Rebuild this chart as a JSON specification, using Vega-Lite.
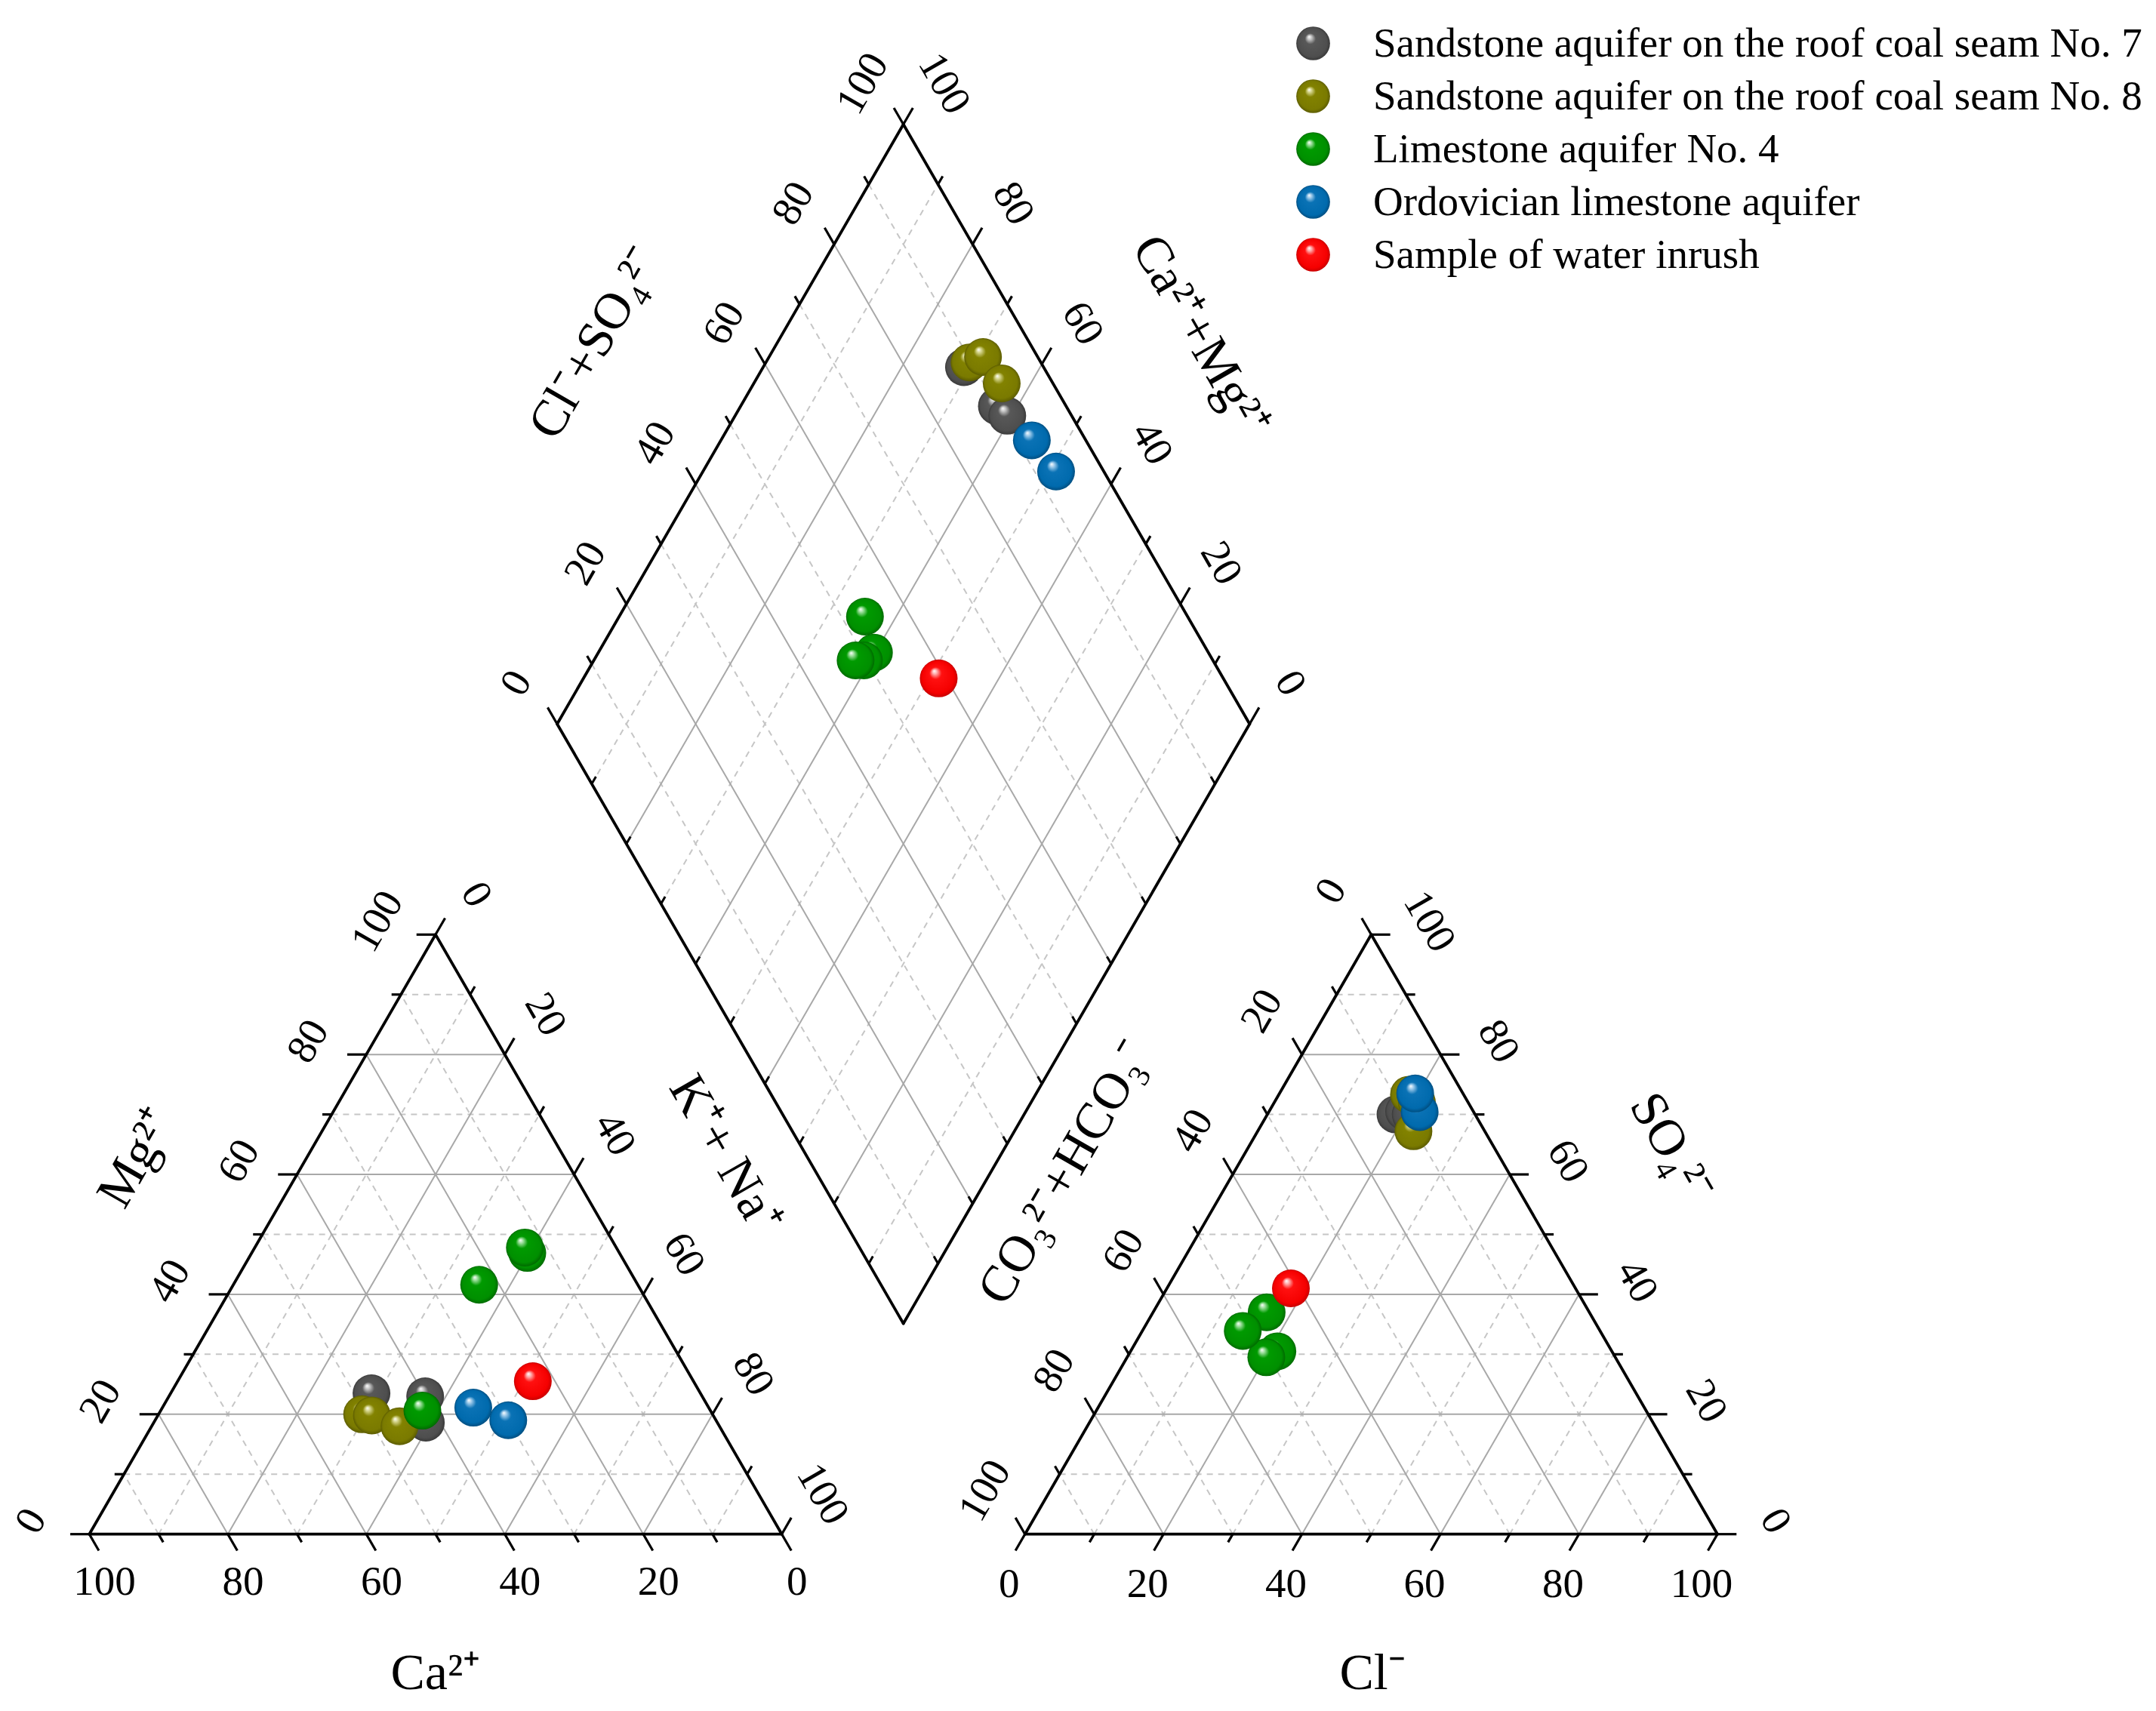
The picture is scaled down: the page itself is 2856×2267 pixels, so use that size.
{
"$schema": "https://vega.github.io/schema/vega-lite/v6.json",
"width": 2856, "height": 2267, "padding": 0, "autosize": {"type": "none"}, "background": "white",
"config": {"view": {"stroke": null}},
"datasets": {
"lines": [
{"p":"cat","f":"h","u":0},{"p":"cat","f":"h","u":10},{"p":"cat","f":"h","u":20},{"p":"cat","f":"h","u":30},{"p":"cat","f":"h","u":40},{"p":"cat","f":"h","u":50},{"p":"cat","f":"h","u":60},{"p":"cat","f":"h","u":70},{"p":"cat","f":"h","u":80},{"p":"cat","f":"h","u":90},{"p":"cat","f":"h","u":100},
{"p":"cat","f":"p","u":0},{"p":"cat","f":"p","u":10},{"p":"cat","f":"p","u":20},{"p":"cat","f":"p","u":30},{"p":"cat","f":"p","u":40},{"p":"cat","f":"p","u":50},{"p":"cat","f":"p","u":60},{"p":"cat","f":"p","u":70},{"p":"cat","f":"p","u":80},{"p":"cat","f":"p","u":90},{"p":"cat","f":"p","u":100},
{"p":"cat","f":"q","u":0},{"p":"cat","f":"q","u":10},{"p":"cat","f":"q","u":20},{"p":"cat","f":"q","u":30},{"p":"cat","f":"q","u":40},{"p":"cat","f":"q","u":50},{"p":"cat","f":"q","u":60},{"p":"cat","f":"q","u":70},{"p":"cat","f":"q","u":80},{"p":"cat","f":"q","u":90},{"p":"cat","f":"q","u":100},
{"p":"an","f":"h","u":0},{"p":"an","f":"h","u":10},{"p":"an","f":"h","u":20},{"p":"an","f":"h","u":30},{"p":"an","f":"h","u":40},{"p":"an","f":"h","u":50},{"p":"an","f":"h","u":60},{"p":"an","f":"h","u":70},{"p":"an","f":"h","u":80},{"p":"an","f":"h","u":90},{"p":"an","f":"h","u":100},
{"p":"an","f":"p","u":0},{"p":"an","f":"p","u":10},{"p":"an","f":"p","u":20},{"p":"an","f":"p","u":30},{"p":"an","f":"p","u":40},{"p":"an","f":"p","u":50},{"p":"an","f":"p","u":60},{"p":"an","f":"p","u":70},{"p":"an","f":"p","u":80},{"p":"an","f":"p","u":90},{"p":"an","f":"p","u":100},
{"p":"an","f":"q","u":0},{"p":"an","f":"q","u":10},{"p":"an","f":"q","u":20},{"p":"an","f":"q","u":30},{"p":"an","f":"q","u":40},{"p":"an","f":"q","u":50},{"p":"an","f":"q","u":60},{"p":"an","f":"q","u":70},{"p":"an","f":"q","u":80},{"p":"an","f":"q","u":90},{"p":"an","f":"q","u":100},
{"p":"dia","f":"c","u":0},{"p":"dia","f":"c","u":10},{"p":"dia","f":"c","u":20},{"p":"dia","f":"c","u":30},{"p":"dia","f":"c","u":40},{"p":"dia","f":"c","u":50},{"p":"dia","f":"c","u":60},{"p":"dia","f":"c","u":70},{"p":"dia","f":"c","u":80},{"p":"dia","f":"c","u":90},{"p":"dia","f":"c","u":100},
{"p":"dia","f":"n","u":0},{"p":"dia","f":"n","u":10},{"p":"dia","f":"n","u":20},{"p":"dia","f":"n","u":30},{"p":"dia","f":"n","u":40},{"p":"dia","f":"n","u":50},{"p":"dia","f":"n","u":60},{"p":"dia","f":"n","u":70},{"p":"dia","f":"n","u":80},{"p":"dia","f":"n","u":90},{"p":"dia","f":"n","u":100}
],
"samples": [
{"id":"G1","group":"Sandstone aquifer on the roof coal seam No. 7","ca":47.5,"mg":23.5,"na":29.0,"hco3":11.5,"so4":70.0,"cl":18.5},
{"id":"G2","group":"Sandstone aquifer on the roof coal seam No. 7","ca":40.0,"mg":23.0,"na":37.0,"hco3":10.0,"so4":70.5,"cl":19.5},
{"id":"G3","group":"Sandstone aquifer on the roof coal seam No. 7","ca":42.1,"mg":18.6,"na":39.3,"hco3":9.3,"so4":70.0,"cl":20.7},
{"id":"O1","group":"Sandstone aquifer on the roof coal seam No. 8","ca":50.6,"mg":20.0,"na":29.4,"hco3":10.3,"so4":67.2,"cl":22.5},
{"id":"O2","group":"Sandstone aquifer on the roof coal seam No. 8","ca":49.3,"mg":19.8,"na":30.9,"hco3":7.9,"so4":73.3,"cl":18.8},
{"id":"O3","group":"Sandstone aquifer on the roof coal seam No. 8","ca":46.2,"mg":18.0,"na":35.8,"hco3":7.4,"so4":72.0,"cl":20.6},
{"id":"L1","group":"Limestone aquifer No. 4","ca":13.3,"mg":46.9,"na":39.8,"hco3":48.3,"so4":30.5,"cl":21.2},
{"id":"L2","group":"Limestone aquifer No. 4","ca":13.2,"mg":47.8,"na":39.0,"hco3":50.4,"so4":29.5,"cl":20.1},
{"id":"L3","group":"Limestone aquifer No. 4","ca":22.9,"mg":41.6,"na":35.5,"hco3":46.6,"so4":37.0,"cl":16.4},
{"id":"L4","group":"Limestone aquifer No. 4","ca":41.6,"mg":20.6,"na":37.8,"hco3":51.6,"so4":33.9,"cl":14.5},
{"id":"B1","group":"Ordovician limestone aquifer","ca":34.0,"mg":21.1,"na":44.9,"hco3":7.8,"so4":70.4,"cl":21.8},
{"id":"B2","group":"Ordovician limestone aquifer","ca":30.0,"mg":19.0,"na":51.0,"hco3":6.9,"so4":73.5,"cl":19.6},
{"id":"R1","group":"Sample of water inrush","ca":23.2,"mg":25.5,"na":51.3,"hco3":41.1,"so4":41.0,"cl":17.9}
]
},
"encoding": {
"x": {"field": "x", "type": "quantitative", "scale": {"domain": [-12.897, 298.45], "nice": false, "zero": false}, "axis": null},
"y": {"field": "y", "type": "quantitative", "scale": {"domain": [-25.543, 221.596], "nice": false, "zero": false}, "axis": null}
},
"layer": [
{
"data": {"name": "lines"},
"transform": [
{"calculate": "datum.p == 'an' ? 135.12 : 0", "as": "ox"},
{"calculate": "datum.p == 'dia' ? 67.56 + datum.u / 2 : (datum.f == 'h' ? datum.ox + datum.u / 2 : datum.ox + datum.u)", "as": "sx"},
{"calculate": "datum.p == 'dia' ? (datum.f == 'c' ? 117.03 + datum.u * 0.8660254 : 117.03 - datum.u * 0.8660254) : (datum.f == 'h' ? datum.u * 0.8660254 : 0)", "as": "sy"},
{"calculate": "datum.p == 'dia' ? datum.sx + 50 : (datum.f == 'h' ? datum.ox + 100 - datum.u / 2 : (datum.f == 'p' ? datum.ox + 50 + datum.u / 2 : datum.ox + datum.u / 2))", "as": "ex"},
{"calculate": "datum.p == 'dia' ? (datum.f == 'c' ? datum.sy - 86.60254 : datum.sy + 86.60254) : (datum.f == 'h' ? datum.sy : (datum.f == 'p' ? (100 - datum.u) * 0.8660254 : datum.u * 0.8660254))", "as": "ey"},
{"calculate": "(datum.p == 'cat' && datum.f == 'p') || (datum.p == 'an' && datum.f != 'p') || (datum.p == 'dia' && datum.f == 'n')", "as": "atEnd"},
{"calculate": "datum.atEnd ? datum.ex : datum.sx", "as": "ax"},
{"calculate": "datum.atEnd ? datum.ey : datum.sy", "as": "ay"},
{"calculate": "datum.p == 'cat' ? (datum.f == 'h' ? -1 : 0.5) : (datum.p == 'an' ? (datum.f == 'h' ? 1 : -0.5) : (datum.f == 'c' ? -0.5 : 0.5))", "as": "dx"},
{"calculate": "datum.f == 'h' ? 0 : (((datum.p == 'cat' && datum.f == 'q') || (datum.p == 'an' && datum.f == 'p')) ? -0.8660254 : 0.8660254)", "as": "dy"},
{"calculate": "datum.u % 20 == 0 ? 2.75 : 1.35", "as": "tl"},
{"calculate": "datum.sx", "as": "x"},
{"calculate": "datum.sy", "as": "y"}
],
"layer": [
{"transform": [{"filter": "datum.u % 20 == 10"}], "mark": {"type": "rule", "color": "#c6c6c6", "strokeWidth": 2, "strokeDash": [8, 7]}, "encoding": {"x2": {"field": "ex"}, "y2": {"field": "ey"}}},
{"transform": [{"filter": "datum.u > 0 && datum.u < 100 && datum.u % 20 == 0"}], "mark": {"type": "rule", "color": "#a8a8a8", "strokeWidth": 2}, "encoding": {"x2": {"field": "ex"}, "y2": {"field": "ey"}}},
{"transform": [{"filter": "(datum.p != 'dia' && ((datum.f == 'h' && datum.u == 0) || (datum.f == 'p' && datum.u == 0) || (datum.f == 'q' && datum.u == 100))) || (datum.p == 'dia' && (datum.u == 0 || datum.u == 100))"}], "mark": {"type": "rule", "color": "black", "strokeWidth": 3.8, "strokeCap": "round"}, "encoding": {"x2": {"field": "ex"}, "y2": {"field": "ey"}}},
{"transform": [
{"calculate": "datum.ax", "as": "x"},
{"calculate": "datum.ay", "as": "y"},
{"calculate": "datum.ax + datum.tl * datum.dx", "as": "tx"},
{"calculate": "datum.ay + datum.tl * datum.dy", "as": "ty"}
], "mark": {"type": "rule", "color": "black", "strokeWidth": 3.2}, "encoding": {"x2": {"field": "tx"}, "y2": {"field": "ty"}}},
{"transform": [
{"filter": "datum.p == 'dia'"},
{"calculate": "datum.f == 'c' ? datum.ex : datum.sx", "as": "x"},
{"calculate": "datum.f == 'c' ? datum.ey : datum.sy", "as": "y"},
{"calculate": "datum.x + 1.2 * datum.dx", "as": "tx"},
{"calculate": "datum.y + 1.2 * datum.dy", "as": "ty"}
], "mark": {"type": "rule", "color": "black", "strokeWidth": 3}, "encoding": {"x2": {"field": "tx"}, "y2": {"field": "ty"}}},
{
"transform": [
{"filter": "datum.u % 20 == 0"},
{"calculate": "datum.ax + (datum.p == 'cat' ? (datum.f == 'h' ? -8.4 : (datum.f == 'q' ? 2.2 : 5.9)) : (datum.p == 'an' ? (datum.f == 'h' ? 8.4 : (datum.f == 'p' ? -2.3 : -5.8)) : (datum.f == 'c' ? -5.9 : 5.9)))", "as": "x"},
{"calculate": "datum.ay + (datum.p == 'cat' ? (datum.f == 'h' ? 1.9 : (datum.f == 'q' ? -6.9 : 5.8)) : (datum.p == 'an' ? (datum.f == 'h' ? 1.9 : (datum.f == 'p' ? -7.2 : 6.3)) : 5.9))", "as": "y"},
{"calculate": "'' + (((datum.f == 'q' && datum.p != 'dia') || (datum.p == 'dia' && datum.f == 'n')) ? 100 - datum.u : datum.u)", "as": "lab"}
],
"layer": [
{"transform": [{"filter": "(datum.p == 'cat' && datum.f == 'q') || (datum.p == 'an' && datum.f == 'p')"}], "mark": {"type": "text", "font": "Liberation Serif", "fontSize": 55, "color": "black", "align": "center", "baseline": "middle", "angle": 0}, "encoding": {"text": {"field": "lab", "type": "nominal"}}},
{"transform": [{"filter": "(datum.p == 'cat' && datum.f == 'h') || (datum.p == 'an' && datum.f == 'q') || (datum.p == 'dia' && datum.f == 'c')"}], "mark": {"type": "text", "font": "Liberation Serif", "fontSize": 55, "color": "black", "align": "center", "baseline": "middle", "angle": -60}, "encoding": {"text": {"field": "lab", "type": "nominal"}}},
{"transform": [{"filter": "(datum.p == 'cat' && datum.f == 'p') || (datum.p == 'an' && datum.f == 'h') || (datum.p == 'dia' && datum.f == 'n')"}], "mark": {"type": "text", "font": "Liberation Serif", "fontSize": 55, "color": "black", "align": "center", "baseline": "middle", "angle": 60}, "encoding": {"text": {"field": "lab", "type": "nominal"}}}
]
}
]
},
{"data": {"values": [{"t": "Mg²⁺"}]}, "transform": [{"calculate": "6.94", "as": "x"}, {"calculate": "54.3", "as": "y"}], "mark": {"type": "text", "font": "Liberation Serif", "fontSize": 68, "color": "black", "align": "center", "baseline": "middle", "angle": -60}, "encoding": {"text": {"field": "t", "type": "nominal"}}},
{"data": {"values": [{"t": "K⁺+ Na⁺"}]}, "transform": [{"calculate": "91.76", "as": "x"}, {"calculate": "54.8", "as": "y"}], "mark": {"type": "text", "font": "Liberation Serif", "fontSize": 68, "color": "black", "align": "center", "baseline": "middle", "angle": 60}, "encoding": {"text": {"field": "t", "type": "nominal"}}},
{"data": {"values": [{"t": "Ca²⁺"}]}, "transform": [{"calculate": "50.0", "as": "x"}, {"calculate": "-20.2", "as": "y"}], "mark": {"type": "text", "font": "Liberation Serif", "fontSize": 68, "color": "black", "align": "center", "baseline": "middle", "angle": 0}, "encoding": {"text": {"field": "t", "type": "nominal"}}},
{"data": {"values": [{"t": "Cl⁻"}]}, "transform": [{"calculate": "185.3", "as": "x"}, {"calculate": "-20.2", "as": "y"}], "mark": {"type": "text", "font": "Liberation Serif", "fontSize": 68, "color": "black", "align": "center", "baseline": "middle", "angle": 0}, "encoding": {"text": {"field": "t", "type": "nominal"}}},
{"data": {"values": [{"t": "CO₃²⁻+HCO₃⁻"}]}, "transform": [{"calculate": "141.0", "as": "x"}, {"calculate": "52.2", "as": "y"}], "mark": {"type": "text", "font": "Liberation Serif", "fontSize": 68, "color": "black", "align": "center", "baseline": "middle", "angle": -60}, "encoding": {"text": {"field": "t", "type": "nominal"}}},
{"data": {"values": [{"t": "SO₄²⁻"}]}, "transform": [{"calculate": "228.4", "as": "x"}, {"calculate": "55.8", "as": "y"}], "mark": {"type": "text", "font": "Liberation Serif", "fontSize": 68, "color": "black", "align": "center", "baseline": "middle", "angle": 60}, "encoding": {"text": {"field": "t", "type": "nominal"}}},
{"data": {"values": [{"t": "Cl⁻+SO₄²⁻"}]}, "transform": [{"calculate": "73.1", "as": "x"}, {"calculate": "172.0", "as": "y"}], "mark": {"type": "text", "font": "Liberation Serif", "fontSize": 68, "color": "black", "align": "center", "baseline": "middle", "angle": -60}, "encoding": {"text": {"field": "t", "type": "nominal"}}},
{"data": {"values": [{"t": "Ca²⁺+Mg²⁺"}]}, "transform": [{"calculate": "160.4", "as": "x"}, {"calculate": "173.0", "as": "y"}], "mark": {"type": "text", "font": "Liberation Serif", "fontSize": 68, "color": "black", "align": "center", "baseline": "middle", "angle": 60}, "encoding": {"text": {"field": "t", "type": "nominal"}}},
{
"data": {"name": "samples"},
"transform": [
{"calculate": "datum.na + datum.mg / 2", "as": "x"},
{"calculate": "datum.mg * 0.8660254", "as": "y"}
],
"mark": {"type": "point", "shape": "circle", "filled": true, "opacity": 1, "size": 2500, "strokeWidth": 0},
"encoding": {"color": {"field": "group", "type": "nominal",
"scale": {"domain": ["Sandstone aquifer on the roof coal seam No. 7", "Sandstone aquifer on the roof coal seam No. 8", "Limestone aquifer No. 4", "Ordovician limestone aquifer", "Sample of water inrush"],
"range": [
{"expr": "{gradient: 'radial', x1: 0.38, y1: 0.3, r1: 0, x2: 0.5, y2: 0.5, r2: 0.5, stops: [{offset: 0, color: '#ffffff'}, {offset: 0.12, color: '#c8c8c8'}, {offset: 0.32, color: '#585858'}, {offset: 0.85, color: '#4e4e4e'}, {offset: 1, color: '#3a3a3a'}]}"},
{"expr": "{gradient: 'radial', x1: 0.38, y1: 0.3, r1: 0, x2: 0.5, y2: 0.5, r2: 0.5, stops: [{offset: 0, color: '#ffffff'}, {offset: 0.12, color: '#d6d68e'}, {offset: 0.32, color: '#828200'}, {offset: 0.85, color: '#7a7a00'}, {offset: 1, color: '#5c5c00'}]}"},
{"expr": "{gradient: 'radial', x1: 0.38, y1: 0.3, r1: 0, x2: 0.5, y2: 0.5, r2: 0.5, stops: [{offset: 0, color: '#ffffff'}, {offset: 0.12, color: '#9fe09f'}, {offset: 0.32, color: '#009a00'}, {offset: 0.85, color: '#008f00'}, {offset: 1, color: '#006a00'}]}"},
{"expr": "{gradient: 'radial', x1: 0.38, y1: 0.3, r1: 0, x2: 0.5, y2: 0.5, r2: 0.5, stops: [{offset: 0, color: '#ffffff'}, {offset: 0.12, color: '#9fcbeb'}, {offset: 0.32, color: '#0a72b5'}, {offset: 0.85, color: '#006aad'}, {offset: 1, color: '#004e80'}]}"},
{"expr": "{gradient: 'radial', x1: 0.38, y1: 0.3, r1: 0, x2: 0.5, y2: 0.5, r2: 0.5, stops: [{offset: 0, color: '#ffffff'}, {offset: 0.12, color: '#ffb0b0'}, {offset: 0.32, color: '#ff1010'}, {offset: 0.85, color: '#f50000'}, {offset: 1, color: '#c80000'}]}"}
]},
"legend": {"orient": "none", "legendX": 1712, "legendY": 30, "title": null, "labelFont": "Liberation Serif", "labelFontSize": 55, "labelColor": "black", "labelLimit": 1300, "symbolSize": 2000, "symbolType": "circle", "symbolOpacity": 1, "symbolStrokeWidth": 0, "labelOffset": 52, "rowPadding": 14, "padding": 0}
}}
},
{
"data": {"name": "samples"},
"transform": [
{"calculate": "135.12 + datum.cl + datum.so4 / 2", "as": "x"},
{"calculate": "datum.so4 * 0.8660254", "as": "y"}
],
"mark": {"type": "point", "shape": "circle", "filled": true, "opacity": 1, "size": 2500, "strokeWidth": 0},
"encoding": {"color": {"field": "group", "type": "nominal"}}
},
{
"data": {"name": "samples"},
"transform": [
{"calculate": "67.56 + (datum.cl + datum.so4) / 2 + datum.na / 2", "as": "x"},
{"calculate": "117.03 + 0.8660254 * (datum.cl + datum.so4 - datum.na)", "as": "y"}
],
"mark": {"type": "point", "shape": "circle", "filled": true, "opacity": 1, "size": 2500, "strokeWidth": 0},
"encoding": {"color": {"field": "group", "type": "nominal"}}
}
]
}
